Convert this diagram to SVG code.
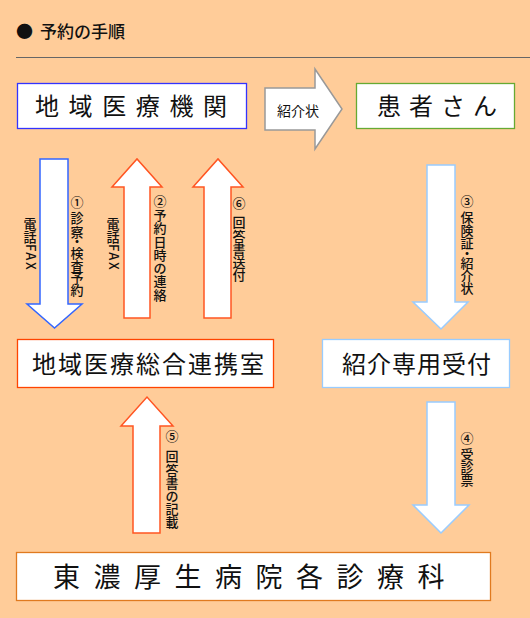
<svg xmlns="http://www.w3.org/2000/svg" width="530" height="618" viewBox="0 0 530 618">
<style>
text{font-family:"Noto Sans CJK JP","Noto Sans",sans-serif;fill:#111}
.box{fill:#fff;stroke-width:1.3}
.arr{fill:#fff;stroke-width:1.5;stroke-linejoin:miter}
.lbl{font-size:13px;text-anchor:middle;font-weight:500}
.fax{font-size:13px;letter-spacing:1.5px;font-weight:500}
.big{font-size:24px}
</style>
<rect x="0" y="0" width="530" height="618" fill="#ffcc99"/>
<g id="title">
<text x="16" y="38" font-size="17">●</text>
<text x="40" y="38" font-size="17" font-weight="500">予約の手順</text>
<line x1="16" y1="57.5" x2="530" y2="57.5" stroke="#666" stroke-width="1"/>
</g>
<g id="n_clinic">
<rect class="box" x="17.5" y="83.5" width="229" height="45" stroke="#3333ff"/>
<text class="big" x="35" y="115" letter-spacing="9.6">地域医療機関</text>
</g>
<g id="n_patient">
<rect class="box" x="356.5" y="83.5" width="158" height="45" stroke="#66aa33"/>
<text class="big" x="377" y="115" letter-spacing="8">患者さん</text>
</g>
<g id="n_renkei">
<rect class="box" x="17.5" y="339.5" width="256" height="48" stroke="#ff4400"/>
<text class="big" x="32" y="373" letter-spacing="2">地域医療総合連携室</text>
</g>
<g id="n_uketsuke">
<rect class="box" x="322.5" y="339.5" width="187" height="48" stroke="#99ccff"/>
<text class="big" x="342" y="373" letter-spacing="1">紹介専用受付</text>
</g>
<g id="n_ka">
<rect class="box" x="16.5" y="552.5" width="474" height="48" stroke="#e07a1f"/>
<text x="53" y="587" font-size="27" letter-spacing="13.5">東濃厚生病院各診療科</text>
</g>
<g id="connectors">
<path class="arr" stroke="#999" d="M265,88 H315 V69 L342,109 L315,149 V130 H265 Z"/>
<text x="277" y="116" font-size="14">紹介状</text>

<path class="arr" stroke="#3366ff" d="M40,159 H68 V304 H82 L54.5,328 L27,304 H40 Z"/>
<text class="lbl" x="30 30" y="229 242">電話</text>
<text class="fax" transform="translate(30,244) rotate(90)" x="0" y="4.5">FAX</text>
<text class="lbl" x="77 77 77 77 77 77 77 77" y="207 223 237 246 258 271 283 295">①診察・検査予約</text>

<path class="arr" stroke="#ff5522" d="M124,318 V187 H112 L137,159 L162,187 H150 V318 Z"/>
<text class="lbl" x="113 113" y="229 242">電話</text>
<text class="fax" transform="translate(113,244) rotate(90)" x="0" y="4.5">FAX</text>
<text class="lbl" x="160 160 160 160 160 160 160 160" y="206 220 233 247 260 273 286 300">②予約日時の連絡</text>

<path class="arr" stroke="#ff5522" d="M204,318 V187 H193 L218,159 L243,187 H231 V318 Z"/>
<text class="lbl" x="239 239 239 239 239 239" y="208 227 241 254 267 280">⑥回答書送付</text>

<path class="arr" stroke="#99ccff" d="M427,165 H455 V302 H468 L441,329 L413,302 H427 Z"/>
<text class="lbl" x="467 467 467 467 467 467 467 467" y="206 222 235 248 258 268 281 293">③保険証・紹介状</text>

<path class="arr" stroke="#99ccff" d="M427,402 H455 V505 H469 L441,533 L413,505 H427 Z"/>
<text class="lbl" x="467 467 467 467" y="443 459 472 485">④受診票</text>

<path class="arr" stroke="#ff5522" d="M133,533 V426 H121 L147,397 L173,426 H160 V533 Z"/>
<text class="lbl" x="172 172 172 172 172 172 172" y="441 461 475 488 501 514 527">⑤回答書の記載</text>
</g>
</svg>
